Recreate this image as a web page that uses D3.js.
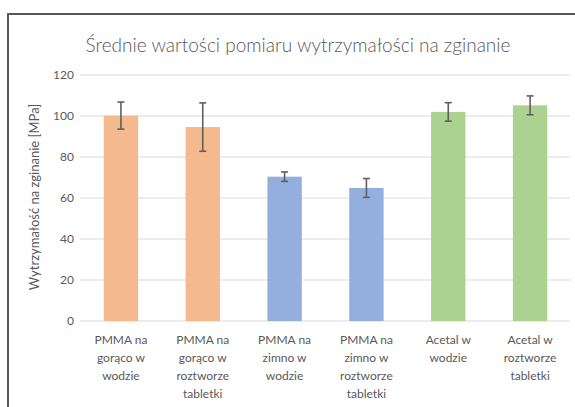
<!DOCTYPE html>
<html>
<head>
<meta charset="utf-8">
<script src="https://cdn.jsdelivr.net/npm/d3@7"></script>
<style>
  html, body { margin: 0; padding: 0; background: #fff; overflow: hidden; width: 575px; height: 407px; }
  svg { display: block; }
</style>
</head>
<body>
<svg id="chart" width="575" height="407"></svg>
<script>
// data
const categories = [
  ['PMMA na', 'gorąco w', 'wodzie'],
  ['PMMA na', 'gorąco w', 'roztworze', 'tabletki'],
  ['PMMA na', 'zimno w', 'wodzie'],
  ['PMMA na', 'zimno w', 'roztworze', 'tabletki'],
  ['Acetal w', 'wodzie'],
  ['Acetal w', 'roztworze', 'tabletki']
]
const means = [100.2, 94.6, 70.4, 64.9, 102.0, 105.2]
const errors = [6.6, 11.8, 2.3, 4.6, 4.5, 4.6]
const barColors = ['#F4B98D', '#F4B98D', '#94AEDD', '#94AEDD', '#ACD28F', '#ACD28F']
const yTicks = [0, 20, 40, 60, 80, 100, 120]

const svg = d3.select('#chart')
const textColor = '#595959'
const font = 'Lato, "Open Sans", sans-serif'

// chart frame: only top and left edges are inside the picture
svg
  .append('path')
  .attr('d', 'M 8 407 L 8 14 L 575 14')
  .attr('fill', 'none')
  .attr('stroke', '#595959')
  .attr('stroke-width', 2)

const x = d3
  .scaleBand()
  .domain(d3.range(categories.length))
  .range([80, 571])
  .paddingInner(0.58)
  .paddingOuter(0.29)

const y = d3.scaleLinear().domain([0, 120]).range([321, 75])

// gridlines
svg
  .append('g')
  .selectAll('line')
  .data(yTicks)
  .join('line')
  .attr('x1', 80)
  .attr('x2', 570)
  .attr('y1', d => y(d))
  .attr('y2', d => y(d))
  .attr('stroke', '#d9d9d9')
  .attr('stroke-width', 1)

// y tick labels
svg
  .append('g')
  .selectAll('text')
  .data(yTicks)
  .join('text')
  .attr('x', 74)
  .attr('y', d => y(d) + 4)
  .attr('text-anchor', 'end')
  .attr('fill', textColor)
  .attr('font-family', font)
  .attr('font-size', 12)
  .text(d => d)

// bars
svg
  .append('g')
  .selectAll('rect')
  .data(means)
  .join('rect')
  .attr('x', (d, i) => x(i))
  .attr('y', d => y(d))
  .attr('width', x.bandwidth())
  .attr('height', d => y(0) - y(d))
  .attr('fill', (d, i) => barColors[i])

// error bars
const err = svg
  .append('g')
  .attr('stroke', '#5f5f5f')
  .attr('stroke-width', 1.6)
means.forEach((m, i) => {
  const cx = x(i) + x.bandwidth() / 2
  err
    .append('line')
    .attr('x1', cx)
    .attr('x2', cx)
    .attr('y1', y(m + errors[i]))
    .attr('y2', y(m - errors[i]))
  ;[m + errors[i], m - errors[i]].forEach(v => {
    err
      .append('line')
      .attr('x1', cx - 3.5)
      .attr('x2', cx + 3.5)
      .attr('y1', y(v))
      .attr('y2', y(v))
  })
})

// x labels
const xl = svg.append('g')
categories.forEach((lines, i) => {
  const cx = x(i) + x.bandwidth() / 2
  xl.append('text')
    .attr('text-anchor', 'middle')
    .attr('fill', textColor)
    .attr('font-family', font)
    .attr('font-size', 12)
    .selectAll('tspan')
    .data(lines)
    .join('tspan')
    .attr('x', cx)
    .attr('y', (d, j) => 344 + j * 18)
    .text(d => d)
})

// title
svg
  .append('text')
  .attr('x', 298)
  .attr('y', 52)
  .attr('text-anchor', 'middle')
  .attr('fill', textColor)
  .attr('font-family', font)
  .attr('font-weight', 300)
  .attr('font-size', 19)
  .text('Średnie wartości pomiaru wytrzymałości na zginanie')

// y axis title
svg
  .append('text')
  .attr('transform', 'translate(39,197) rotate(-90)')
  .attr('text-anchor', 'middle')
  .attr('fill', textColor)
  .attr('font-family', font)
  .attr('font-size', 13)
  .text('Wytrzymałość na zginanie [MPa]')
</script>
</body>
</html>
